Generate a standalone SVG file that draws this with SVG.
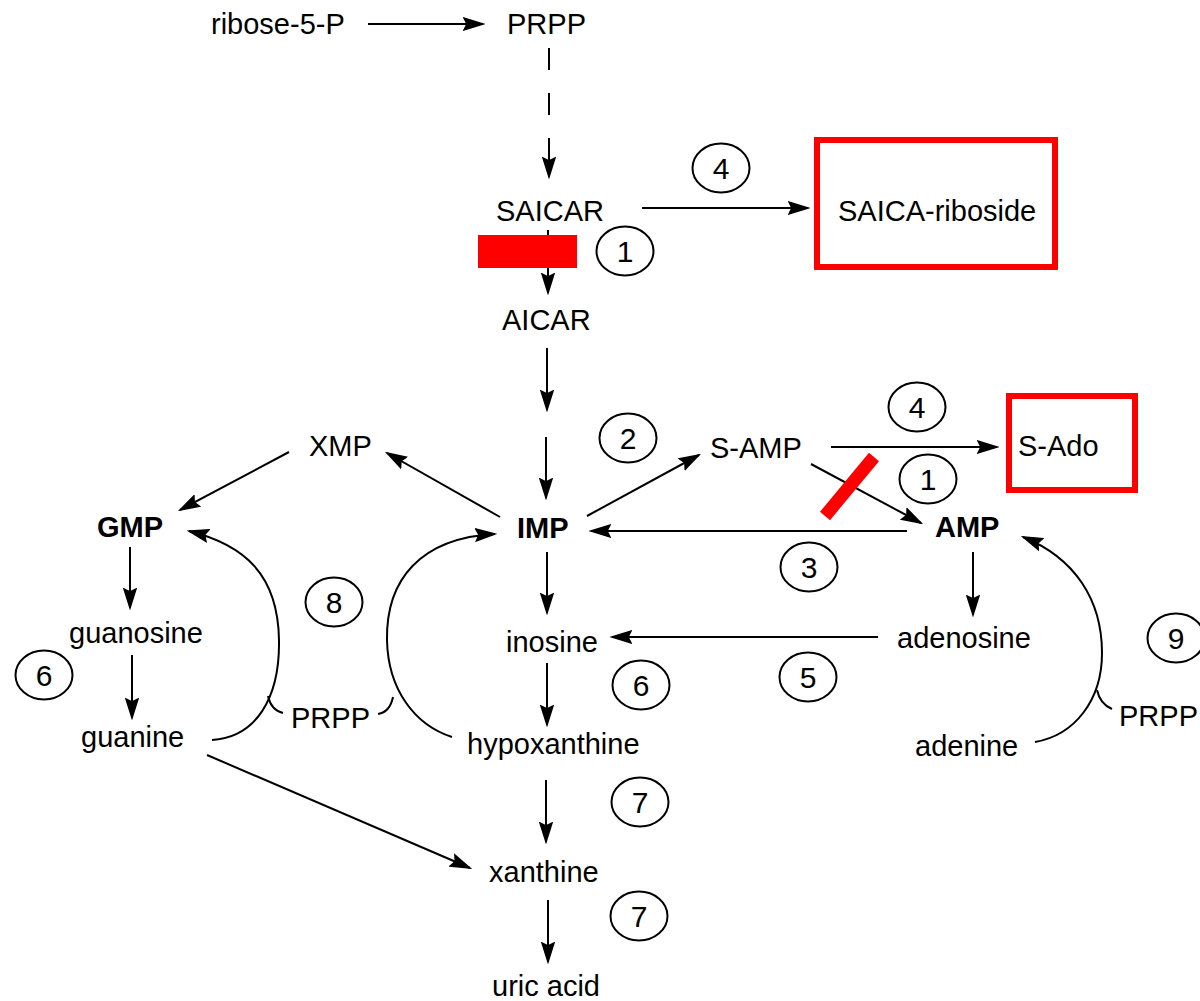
<svg xmlns="http://www.w3.org/2000/svg" width="1200" height="1001" viewBox="0 0 1200 1001">
<style>
  text { font-family: "Liberation Sans", Arial, Helvetica, sans-serif; font-size: 29px; fill: #000; }
  .b { font-weight: bold; }
  .num { font-size: 30px; text-anchor: middle; }
  .c { fill: none; stroke: #000; stroke-width: 2; }
  .e { fill: #fff; stroke: #000; stroke-width: 2; }
  .a { marker-end: url(#ah); }
  .box { fill: none; stroke: #ff0000; stroke-width: 6; }
</style>
<defs>
  <marker id="ah" markerWidth="22" markerHeight="16" refX="20" refY="8" orient="auto" markerUnits="userSpaceOnUse" viewBox="0 0 22 16">
    <path d="M20,8 L1,2 L4,8 L1,14 Z" fill="#000" stroke="#000" stroke-width="1.5" stroke-linejoin="miter"/>
  </marker>
</defs>
<rect width="1200" height="1001" fill="#fff"/>

<g id="connectors">
  <line class="c a" x1="368" y1="24" x2="483" y2="24"/>
  <line class="c" x1="549" y1="48" x2="549" y2="70"/>
  <line class="c" x1="549" y1="93" x2="549" y2="115"/>
  <line class="c a" x1="549" y1="138" x2="549" y2="177"/>
  <line class="c a" x1="548" y1="230" x2="548" y2="293"/>
  <line class="c a" x1="642" y1="208" x2="808" y2="208"/>
  <line class="c a" x1="547" y1="348" x2="547" y2="410"/>
  <line class="c a" x1="546" y1="437" x2="546" y2="498"/>
  <line class="c a" x1="500" y1="517" x2="387" y2="453"/>
  <line class="c a" x1="289" y1="452" x2="180" y2="510"/>
  <line class="c a" x1="587" y1="516" x2="699" y2="455"/>
  <line class="c a" x1="831" y1="447" x2="997" y2="447"/>
  <line class="c a" x1="811" y1="464" x2="921" y2="523"/>
  <line class="c a" x1="907" y1="531" x2="591" y2="531"/>
  <line class="c a" x1="130" y1="547" x2="130" y2="608"/>
  <line class="c a" x1="132" y1="655" x2="132" y2="718"/>
  <line class="c a" x1="547" y1="552" x2="547" y2="613"/>
  <line class="c a" x1="547" y1="663" x2="547" y2="725"/>
  <line class="c a" x1="973" y1="552" x2="973" y2="615"/>
  <line class="c a" x1="878" y1="637" x2="612" y2="637"/>
  <line class="c a" x1="546" y1="780" x2="546" y2="842"/>
  <line class="c a" x1="548" y1="900" x2="548" y2="962"/>
  <line class="c a" x1="207" y1="755" x2="470" y2="868"/>
  <path class="c a" d="M212,740 C255,737 280,700 279,640 C278,575 245,545 189,531"/>
  <path class="c a" d="M452,737 C415,725 388,690 387,640 C386,580 420,538 495,534"/>
  <path class="c a" d="M1035,742 C1075,735 1102,700 1102,653 C1102,600 1075,558 1023,537"/>
  <path class="c" d="M268,696 Q271,710 283,713"/>
  <path class="c" d="M378,714 Q390,712 393,697"/>
  <path class="c" d="M1097,690 Q1100,704 1112,709"/>
</g>

<g id="blocks">
  <rect x="478" y="235" width="99" height="33" fill="#ff0000"/>
  <line x1="825" y1="516" x2="874" y2="457" stroke="#ff0000" stroke-width="13"/>
</g>

<g id="n-ribose5p"><text x="211" y="34">ribose-5-P</text></g>
<g id="n-prpp-top"><text x="507" y="34">PRPP</text></g>
<g id="n-saicar"><text x="496" y="221">SAICAR</text></g>
<g id="n-saica-riboside"><rect class="box" x="817" y="140" width="238" height="127"/><text x="838" y="221">SAICA-riboside</text></g>
<g id="n-aicar"><text x="502" y="330">AICAR</text></g>
<g id="n-xmp"><text x="309" y="456">XMP</text></g>
<g id="n-samp"><text x="710" y="458">S-AMP</text></g>
<g id="n-sado"><rect class="box" x="1009" y="396" width="126" height="94"/><text x="1018" y="456">S-Ado</text></g>
<g id="n-gmp"><text class="b" x="97" y="537">GMP</text></g>
<g id="n-imp"><text class="b" x="517" y="538">IMP</text></g>
<g id="n-amp"><text class="b" x="935" y="537">AMP</text></g>
<g id="n-guanosine"><text x="69" y="643">guanosine</text></g>
<g id="n-inosine"><text x="506" y="652">inosine</text></g>
<g id="n-adenosine"><text x="897" y="648">adenosine</text></g>
<g id="n-guanine"><text x="81" y="747">guanine</text></g>
<g id="n-prpp-left"><text x="291" y="728">PRPP</text></g>
<g id="n-hypoxanthine"><text x="467" y="754">hypoxanthine</text></g>
<g id="n-adenine"><text x="915" y="756">adenine</text></g>
<g id="n-prpp-right"><text x="1119" y="726">PRPP</text></g>
<g id="n-xanthine"><text x="489" y="882">xanthine</text></g>
<g id="n-uric-acid"><text x="492" y="996">uric acid</text></g>

<g id="enzymes">
  <g id="e4a"><ellipse class="e" cx="721" cy="168" rx="28.5" ry="24.5"/><text class="num" x="721" y="179">4</text></g>
  <g id="e1a"><ellipse class="e" cx="625" cy="251" rx="28.5" ry="24.5"/><text class="num" x="625" y="262">1</text></g>
  <g id="e2"><ellipse class="e" cx="628" cy="438" rx="28.5" ry="24.5"/><text class="num" x="628" y="449">2</text></g>
  <g id="e4b"><ellipse class="e" cx="917" cy="407" rx="28.5" ry="24.5"/><text class="num" x="917" y="418">4</text></g>
  <g id="e1b"><ellipse class="e" cx="928" cy="479" rx="28.5" ry="24.5"/><text class="num" x="928" y="490">1</text></g>
  <g id="e3"><ellipse class="e" cx="809" cy="567" rx="28.5" ry="24.5"/><text class="num" x="809" y="578">3</text></g>
  <g id="e8"><ellipse class="e" cx="334" cy="602" rx="28.5" ry="24.5"/><text class="num" x="334" y="613">8</text></g>
  <g id="e6a"><ellipse class="e" cx="44" cy="675" rx="28.5" ry="24.5"/><text class="num" x="44" y="686">6</text></g>
  <g id="e6b"><ellipse class="e" cx="641" cy="685" rx="28.5" ry="24.5"/><text class="num" x="641" y="696">6</text></g>
  <g id="e5"><ellipse class="e" cx="808" cy="677" rx="28.5" ry="24.5"/><text class="num" x="808" y="688">5</text></g>
  <g id="e9"><ellipse class="e" cx="1176" cy="638" rx="28.5" ry="24.5"/><text class="num" x="1176" y="649">9</text></g>
  <g id="e7a"><ellipse class="e" cx="640" cy="802" rx="28.5" ry="24.5"/><text class="num" x="640" y="813">7</text></g>
  <g id="e7b"><ellipse class="e" cx="639" cy="916" rx="28.5" ry="24.5"/><text class="num" x="639" y="927">7</text></g>
</g>
</svg>
